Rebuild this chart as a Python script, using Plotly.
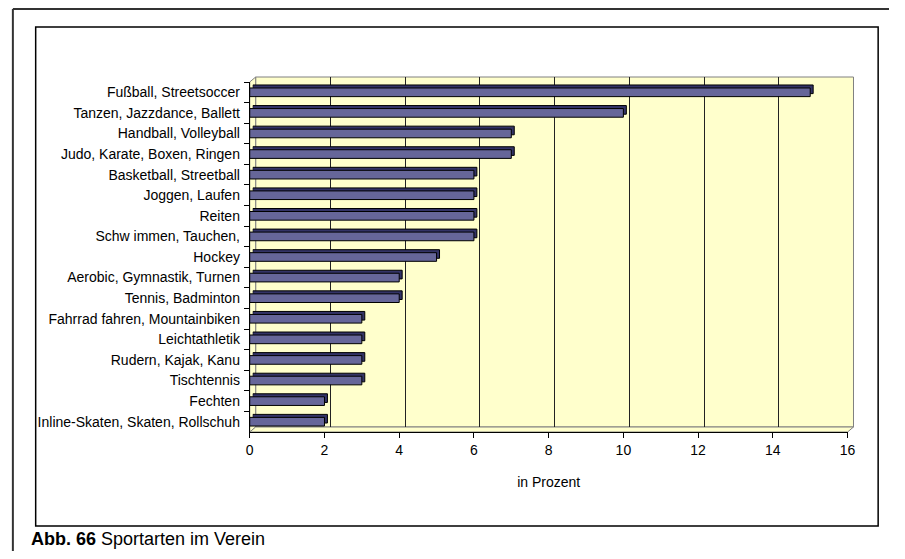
import plotly.graph_objects as go

sports = ['Fußball, Streetsoccer', 'Tanzen, Jazzdance, Ballett', 'Handball, Volleyball',
          'Judo, Karate, Boxen, Ringen', 'Basketball, Streetball', 'Joggen, Laufen',
          'Reiten', 'Schw immen, Tauchen,', 'Hockey', 'Aerobic, Gymnastik, Turnen',
          'Tennis, Badminton', 'Fahrrad fahren, Mountainbiken', 'Leichtathletik',
          'Rudern, Kajak, Kanu', 'Tischtennis', 'Fechten', 'Inline-Skaten, Skaten, Rollschuh']
percent = [15, 10, 7, 7, 6, 6, 6, 6, 5, 4, 4, 3, 3, 3, 3, 2, 2]
x_ticks = [0, 2, 4, 6, 8, 10, 12, 14, 16]

# page body has an 8px margin on every side, so the figure is smaller and shifted
OFF = 8
W, H = 905 - 2 * OFF, 559 - 2 * OFF
FONT = 'Liberation Sans, Arial, sans-serif'


def px(x):
    return (x - OFF) / W


def py(y):
    return 1 - (y - OFF) / H


# front face of the pseudo-3d plot (page pixels), depth offset of the back wall
L, R, T, B = 249, 855, 82, 432
D = 6

fig = go.Figure()

# invisible trace so the back-wall subplot gets drawn
fig.add_trace(go.Bar(
    y=sports, x=percent, orientation='h', opacity=0,
    xaxis='x', yaxis='y', hoverinfo='skip', showlegend=False
))
# depth of the bars
fig.add_trace(go.Bar(
    y=sports, x=percent, orientation='h', width=0.42,
    marker=dict(color='#333366', line=dict(color='black', width=1)),
    xaxis='x2', yaxis='y2', hoverinfo='skip', showlegend=False
))
# front bars
fig.add_trace(go.Bar(
    y=sports, x=percent, orientation='h', width=0.42,
    marker=dict(color='#666699', line=dict(color='black', width=1)),
    xaxis='x3', yaxis='y3', showlegend=False
))

cat_range = [len(sports) - 0.5, -0.5]

fig.update_layout(
    width=W, height=H,
    margin=dict(l=0, r=0, t=0, b=0),
    paper_bgcolor='white', plot_bgcolor='rgba(0,0,0,0)',
    font=dict(family=FONT, size=14, color='black'),
    # back wall with grid
    xaxis=dict(domain=[px(L + D), px(R + D)], range=[0, 16], dtick=2,
               showgrid=True, gridcolor='#222', gridwidth=1,
               showticklabels=False, zeroline=False, showline=False),
    yaxis=dict(domain=[py(B - 5), py(T - 5)], type='category', categoryarray=sports,
               range=cat_range, showgrid=False, showticklabels=False,
               zeroline=False, showline=False),
    # depth layer
    xaxis2=dict(domain=[px(L + 3), px(R + 3)], range=[0, 16], anchor='y2',
                visible=False),
    yaxis2=dict(domain=[py(B - 3), py(T - 3)], type='category', categoryarray=sports,
                range=cat_range, anchor='x2', visible=False),
    # front axes
    xaxis3=dict(domain=[px(L), px(R)], range=[0, 16], anchor='y3',
                tickvals=x_ticks, ticks='outside', ticklen=5, tickcolor='black',
                showline=True, linecolor='black', linewidth=1,
                showgrid=False, zeroline=False,
                title=dict(text='in Prozent', standoff=20, font=dict(size=14))),
    yaxis3=dict(domain=[py(B), py(T)], type='category', categoryarray=sports,
                range=cat_range, anchor='x3', ticks='outside', ticklen=5,
                tickson='boundaries', tickcolor='black', ticklabelstandoff=6,
                showline=True, linecolor='black', linewidth=1, showgrid=False),
)

shapes = [
    # back wall
    dict(type='rect', xref='x domain', yref='y domain', x0=0, x1=1, y0=0, y1=1,
         fillcolor='#FFFFCC', line=dict(color='#808080', width=1), layer='below'),
    # side wall
    dict(type='path', xref='paper', yref='paper',
         path=f'M {px(L)},{py(T)} L {px(L + D)},{py(T - 5)} L {px(L + D)},{py(B - 5)} '
              f'L {px(L)},{py(B)} Z',
         fillcolor='#FFFFCC', line=dict(color='#808080', width=1), layer='below'),
    # floor
    dict(type='path', xref='paper', yref='paper',
         path=f'M {px(L)},{py(B)} L {px(R)},{py(B)} L {px(R + D)},{py(B - 5)} '
              f'L {px(L + D)},{py(B - 5)} Z',
         fillcolor='#FFFFCC', line=dict(color='#808080', width=1), layer='below'),
    # chart frame
    dict(type='rect', xref='paper', yref='paper', x0=px(32), x1=px(886), y0=py(526), y1=py(27),
         line=dict(color='black', width=1.5)),
    # outer page frame
    dict(type='line', xref='paper', yref='paper', x0=0.001, x1=1, y0=py(9), y1=py(9),
         line=dict(color='#333', width=2)),
    dict(type='line', xref='paper', yref='paper', x0=0.001, x1=0.001, y0=py(9), y1=0,
         line=dict(color='#333', width=2)),
]
fig.update_layout(shapes=shapes)

fig.add_annotation(
    x=px(25), y=py(539), xref='paper', yref='paper', xanchor='left', yanchor='middle',
    text='<b>Abb. 66</b> Sportarten im Verein', showarrow=False,
    font=dict(size=18, family=FONT, color='black')
)

fig.write_html('out.html')
